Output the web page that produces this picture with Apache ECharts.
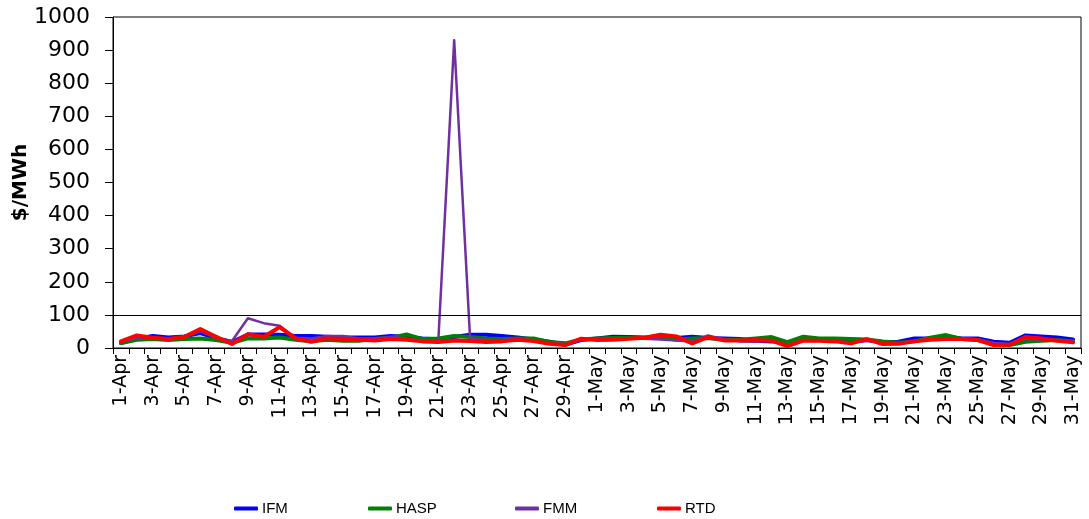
<!DOCTYPE html>
<html>
<head>
<meta charset="utf-8">
<script src="https://cdn.jsdelivr.net/npm/echarts@6/dist/echarts.min.js"></script>
<style>html,body{margin:0;padding:0;background:#fff;}#c{width:1089px;height:519px;}</style>
</head>
<body>
<div id="c"></div>
<script>
const categories = [];
for (let d = 1; d <= 30; d++) categories.push(d + '-Apr');
for (let d = 1; d <= 31; d++) categories.push(d + '-May');

const yTicks = [0, 100, 200, 300, 400, 500, 600, 700, 800, 900, 1000];

const IFM = [15,28,36,32,35,45,30,18,41,41,40,36,36,34,32,32,32,36,34,29,26,33,40,40,36,32,26,19,10,24,
  29,34,33,32,32,30,34,30,29,27,22,20,16,25,25,22,18,24,18,19,29,29,33,29,29,19,16,38,35,32,26];
const HASP = [15,25,27,24,27,29,24,16,29,29,32,25,20,25,22,22,27,30,41,27,29,36,33,29,27,29,29,18,14,26,
  29,30,31,30,34,25,29,30,25,25,29,33,18,34,29,29,27,26,20,16,20,31,39,27,24,12,9,19,22,24,20];
const FMM = [18,30,30,28,32,51,30,21,90,75,67,31,29,36,36,29,29,34,29,22,22,930,30,24,24,27,22,15,12,25,
  27,29,29,28,26,23,20,38,26,20,19,22,10,24,23,22,16,22,15,14,22,27,30,28,26,15,13,27,26,24,22];
const RTD = [20,38,31,27,34,57,34,12,42,34,63,29,19,29,27,25,23,27,25,20,18,23,21,18,20,25,21,13,9,28,
  24,25,28,31,40,35,14,33,23,23,24,22,6,22,22,20,14,27,12,13,20,25,27,27,24,9,10,33,29,22,17];

const seriesNames = ['IFM', 'HASP', 'FMM', 'RTD'];

const chart = echarts.init(document.getElementById('c'), null, {renderer: 'canvas'});

function lineSeries(name, data, color, width) {
  return {
    name: name, type: 'line', data: data, symbol: 'none', smooth: false,
    lineStyle: {color: color, width: width, join: 'round', cap: 'round'},
    itemStyle: {color: color},
    emphasis: {disabled: true}, animation: false
  };
}

const s1 = lineSeries('IFM', IFM, '#0000FF', 4);
s1.markLine = {
  silent: true, symbol: 'none', label: {show: false}, animation: false,
  lineStyle: {color: '#000', type: 'solid', width: 1},
  data: [{yAxis: yTicks[1]}]
};

const legendLefts = [229, 363, 510, 652];
const legends = seriesNames.map((n, i) => ({
  top: 496, left: legendLefts[i], itemWidth: 24, itemHeight: 4, itemGap: 0,
  icon: 'roundRect', selectedMode: false,
  textStyle: {fontFamily: '"Liberation Sans Narrow", "Liberation Sans", Arial, sans-serif', fontSize: 15, color: '#000', padding: [0, 0, 0, -1]},
  data: [n]
}));

chart.setOption({
  animation: false,
  backgroundColor: '#fff',
  grid: {left: 113, right: 8, top: 17, bottom: 171, outerBoundsMode: 'none', containLabel: false,
    show: true, borderColor: '#000', borderWidth: 1, backgroundColor: 'transparent'},
  legend: legends,
  xAxis: {
    type: 'category', data: categories, boundaryGap: true,
    axisLine: {lineStyle: {color: '#000', width: 1}},
    axisTick: {show: true, interval: 0, length: 6, lineStyle: {color: '#000'}},
    axisLabel: {interval: 1, rotate: 90, margin: 7, color: '#000', fontSize: 19, fontFamily: '"DejaVu Sans", Arial, sans-serif'},
    splitLine: {show: false}
  },
  yAxis: {
    type: 'value', min: yTicks[0], max: yTicks[yTicks.length - 1], interval: 100,
    name: '$/MWh', nameLocation: 'middle', nameGap: 82, nameRotate: 90, nameMoveOverlap: false,
    nameTextStyle: {fontFamily: '"DejaVu Sans", Arial, sans-serif', fontWeight: 'bold', fontSize: 20, color: '#000'},
    axisLine: {show: true, lineStyle: {color: '#000', width: 1}},
    axisTick: {show: true, length: 8, lineStyle: {color: '#000'}},
    axisLabel: {margin: 23, color: '#000', fontSize: 22, fontFamily: '"DejaVu Sans", Arial, sans-serif',
      formatter: v => String(v)},
    splitLine: {show: false}
  },
  series: [
    s1,
    lineSeries('HASP', HASP, '#008000', 4),
    lineSeries('FMM', FMM, '#7030A0', 2.5),
    lineSeries('RTD', RTD, '#FF0000', 4)
  ]
});
</script>
</body>
</html>
